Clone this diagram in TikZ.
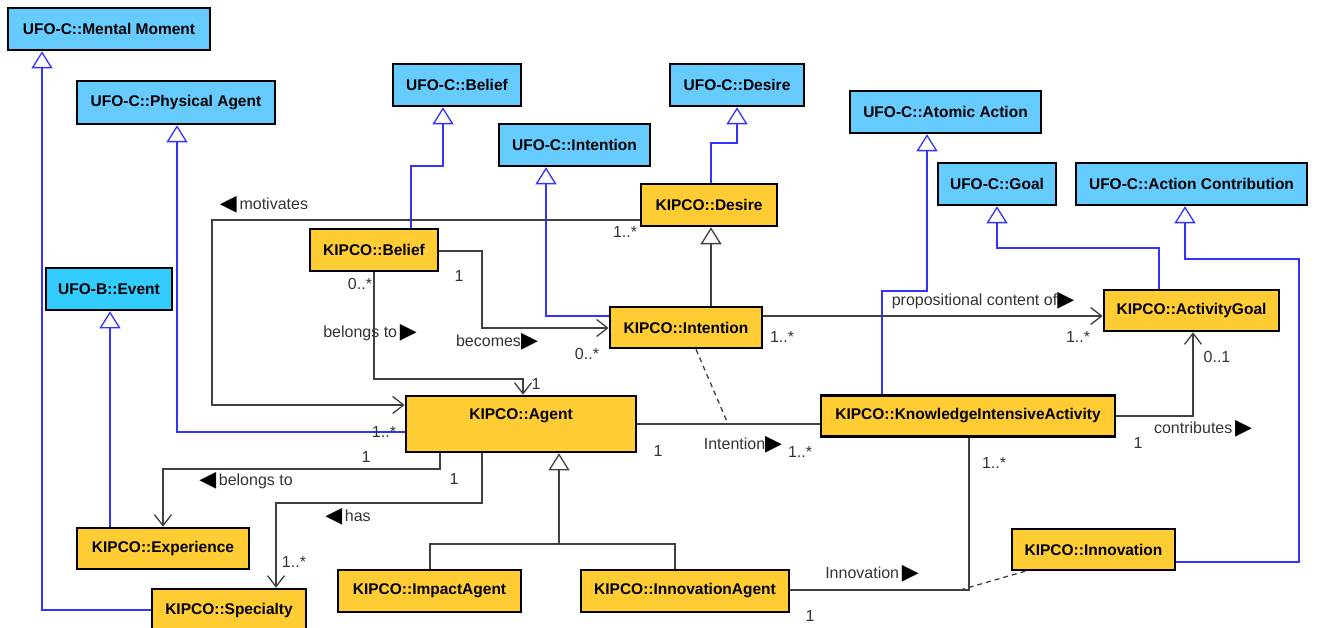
\documentclass[tikz,border=0pt]{standalone}
\usepackage{fontspec}
\setmainfont{Liberation Sans}
\newfontfamily\symfont{DejaVu Sans}
\usetikzlibrary{arrows.meta}
\definecolor{ufoblue}{HTML}{66CCFF}
\definecolor{eventblue}{HTML}{33CCFF}
\definecolor{kipyellow}{HTML}{FFCC33}
\definecolor{linegray}{HTML}{404040}
\definecolor{genblue}{HTML}{3333FF}
\definecolor{labelgray}{HTML}{333333}
% reading-direction markers of association names
\newcommand{\rtri}{\raisebox{-1pt}{\symfont\fontsize{22}{22}\selectfont\textcolor{black}{▶}}}
\newcommand{\ltri}{\raisebox{-1pt}{\symfont\fontsize{22}{22}\selectfont\textcolor{black}{◀}}}

\begin{document}
\begin{tikzpicture}[x=1pt,y=-1pt,
  cls/.style={draw=black, line width=2.6pt, inner sep=0pt,
    font=\fontsize{15.5}{18}\selectfont\bfseries, text=black},
  ufo/.style={cls, fill=ufoblue},
  kipco/.style={cls, fill=kipyellow},
  assoc/.style={draw=linegray, line width=1.3pt},
  nav/.style={assoc, -{Straight Barb[length=11pt,width=17pt]}},
  gen/.style={line width=1.3pt, -{Triangle[length=17pt,width=21pt,fill=white]}},
  realize/.style={gen, draw=genblue},
  subtype/.style={gen, draw=linegray},
  assocclass/.style={draw=linegray, line width=1.3pt, dash pattern=on 5pt off 4pt},
  lbl/.style={font=\fontsize{16}{18}\selectfont, text=labelgray, inner sep=0pt},
]
\useasboundingbox (0,0) rectangle (1317,628);

% ---------- UFO classes ----------
\node[ufo, minimum width=202pt, minimum height=42pt] (ufoMental) at (109,29) {UFO-C::Mental Moment};
\node[ufo, minimum width=198pt, minimum height=43pt] (ufoPhysAgent) at (176,102.5) {UFO-C::Physical Agent};
\node[ufo, fill=eventblue, minimum width=126pt, minimum height=42pt] (ufoEvent) at (109,289) {UFO-B::Event};
\node[ufo, minimum width=128pt, minimum height=42pt] (ufoBelief) at (457,85) {UFO-C::Belief};
\node[ufo, minimum width=134pt, minimum height=42pt] (ufoDesire) at (737,85) {UFO-C::Desire};
\node[ufo, minimum width=151pt, minimum height=42pt] (ufoIntention) at (574.5,145) {UFO-C::Intention};
\node[ufo, minimum width=191pt, minimum height=42pt] (ufoAtomic) at (945.5,112) {UFO-C::Atomic Action};
\node[ufo, minimum width=118pt, minimum height=42pt] (ufoGoal) at (997,184) {UFO-C::Goal};
\node[ufo, minimum width=231pt, minimum height=42pt] (ufoActionContrib) at (1191.5,184) {UFO-C::Action Contribution};

% ---------- KIPCO classes ----------
\node[kipco, minimum width=136pt, minimum height=42pt] (desireK) at (709,205) {KIPCO::Desire};
\node[kipco, minimum width=128pt, minimum height=42pt] (beliefK) at (374,250) {KIPCO::Belief};
\node[kipco, minimum width=152pt, minimum height=41pt] (intentionK) at (686,327.5) {KIPCO::Intention};
\node[kipco, minimum width=175pt, minimum height=41pt] (activityGoal) at (1191.5,310.5) {KIPCO::ActivityGoal};
\node[kipco, minimum width=230pt, minimum height=56pt, text height=23.5pt, text depth=32.5pt] (agent) at (521,424) {KIPCO::Agent};
\node[kipco, minimum width=294pt, minimum height=41pt] (kia) at (968,416) {KIPCO::KnowledgeIntensiveActivity};
\node[kipco, minimum width=172pt, minimum height=41pt] (experience) at (163,548.5) {KIPCO::Experience};
\node[kipco, minimum width=154pt, minimum height=42pt] (specialty) at (229,610) {KIPCO::Specialty};
\node[kipco, minimum width=183pt, minimum height=42pt] (impact) at (429.5,591) {KIPCO::ImpactAgent};
\node[kipco, minimum width=208pt, minimum height=42pt] (innovAgent) at (685,591) {KIPCO::InnovationAgent};
\node[kipco, minimum width=163pt, minimum height=41pt] (innovation) at (1093.5,549.5) {KIPCO::Innovation};

% ---------- generalizations towards UFO ----------
\draw[realize] (beliefK.north -| 411,0) |- (443,166) -- (ufoBelief.south -| 443,0);
\draw[realize] (desireK.north -| 711,0) |- (737,143) -- (ufoDesire.south -| 737,0);
\draw[realize] (intentionK.west |- 0,316) -| (ufoIntention.south -| 546,0);
\draw[realize] (agent.west |- 0,432) -| (ufoPhysAgent.south -| 177,0);
\draw[realize] (experience.north -| 110,0) -- (ufoEvent.south -| 110,0);
\draw[realize] (specialty.west |- 0,610) -| (ufoMental.south -| 42,0);
\draw[realize] (kia.north -| 882,0) |- (927,291) -- (ufoAtomic.south -| 927,0);
\draw[realize] (activityGoal.north -| 1159,0) |- (997,248) -- (ufoGoal.south -| 997,0);
\draw[realize] (innovation.east |- 0,562) -| (1299,259) -| (ufoActionContrib.south -| 1185,0);

% ---------- generalizations inside KIPCO ----------
\draw[subtype] (intentionK.north -| 711,0) -- (desireK.south -| 711,0);
\coordinate (agentFork) at (559,544);
\draw[subtype] (impact.north -| 430,0) |- (agentFork) -- (agent.south -| 559,0);
\draw[assoc] (innovAgent.north -| 675,0) |- (agentFork);

% ---------- associations ----------
\draw[nav] (desireK.west |- 0,220) -| (212,405) -- (agent.west |- 0,405);
\draw[nav] (beliefK.south -| 374,0) |- (523,379) -- (agent.north -| 523,0);
\draw[nav] (beliefK.east |- 0,251) -| (482,328) -- (intentionK.west |- 0,328);
\draw[nav] (agent.south -| 440,0) |- (163,469) -- (experience.north -| 163,0);
\draw[nav] (agent.south -| 482,0) |- (276,503) -- (specialty.north -| 276,0);
\draw[nav] (intentionK.east |- 0,316) -- (activityGoal.west |- 0,316);
\draw[nav] (kia.east |- 0,416) -| (activityGoal.south -| 1193,0);
\draw[assoc] (agent.east |- 0,424) -- (kia.west |- 0,424);
\draw[assoc] (innovAgent.east |- 0,590) -| (kia.south -| 969,0);

% association classes
\coordinate (intentionLink) at (728,424);
\draw[assocclass] (intentionK.south -| 696,0) -- (intentionLink);
\coordinate (innovationLink) at (960,590);
\draw[assocclass] (innovationLink) -- (innovation.south -| 1025,0);

% ---------- association names and multiplicities ----------
\node[lbl] (lMotivates) at (264,205) {\ltri\,motivates};
\node[lbl] (mDesire) at (625,232) {1..*};
\node[lbl] (mBeliefOne) at (459,276) {1};
\node[lbl] (lBecomes) at (497,342) {becomes\rtri};
\node[lbl] (mBecomes) at (587,354) {0..*};
\node[lbl] (mIntentionGoal) at (782,337) {1..*};
\node[lbl] (mBeliefMany) at (360,284) {0..*};
\node[lbl] (lBelongsBelief) at (370,333) {belongs to\,\rtri};
\node[lbl] (mAgentTop) at (536,384) {1};
\node[lbl] (mAgentPhys) at (384,432) {1..*};
\node[lbl] (mAgentExp) at (366,457) {1};
\node[lbl] (lBelongsExp) at (246,481) {\ltri\,belongs to};
\node[lbl] (lHas) at (348,517) {\ltri\,has};
\node[lbl] (mSpecialty) at (294,562) {1..*};
\node[lbl] (mAgentSpec) at (454,479) {1};
\node[lbl] (mAgentKia) at (658,451) {1};
\node[lbl] (lIntention) at (743,445) {Intention\rtri};
\node[lbl] (mKiaIntention) at (800,452) {1..*};
\node[lbl] (mInnovAgent) at (810,616) {1};
\node[lbl] (lInnovation) at (872,574) {Innovation\,\rtri};
\node[lbl] (mKiaInnov) at (994,463) {1..*};
\node[lbl] (mKiaGoal) at (1138,443) {1};
\node[lbl] (lContributes) at (1203,429) {contributes\,\rtri};
\node[lbl] (mGoalOpt) at (1217,357) {0..1};
\node[lbl] (lPropContent) at (983,301) {propositional content of\rtri};
\node[lbl] (mGoalMany) at (1078,337) {1..*};
\end{tikzpicture}
\end{document}
